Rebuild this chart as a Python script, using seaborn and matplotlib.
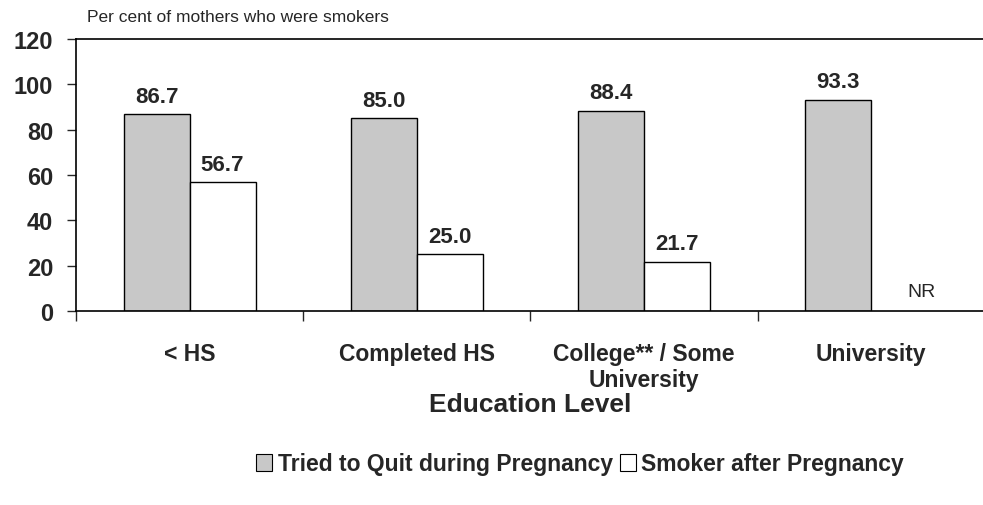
import matplotlib
matplotlib.use("Agg")
import matplotlib.pyplot as plt
import seaborn as sns
import numpy as np
import pandas as pd
from matplotlib.patches import Patch

categories = ["< HS", "Completed HS", "College** / Some\nUniversity", "University"]
series_names = ["Tried to Quit during Pregnancy", "Smoker after Pregnancy"]
tried_quit = [86.7, 85.0, 88.4, 93.3]
smoker_after = [56.7, 25.0, 21.7, np.nan]  # NR for University
yticks = [0, 20, 40, 60, 80, 100, 120]

df = pd.DataFrame({
    "Education": categories * 2,
    "Series": [series_names[0]] * 4 + [series_names[1]] * 4,
    "Value": tried_quit + smoker_after,
})

sns.set_style("white")
plt.rcParams["font.family"] = ["Liberation Sans", "DejaVu Sans"]

fig = plt.figure(figsize=(9.83, 5.06), dpi=100)
ax = fig.add_axes([76 / 983, 1 - 312 / 506, 1 - 76 / 983 + 0.002, (312 - 40) / 506])

grey = "#c8c8c8"
sns.barplot(data=df, x="Education", y="Value", hue="Series", order=categories,
            hue_order=series_names, palette=[grey, "white"], width=0.58,
            edgecolor="black", linewidth=1.0, saturation=1, errorbar=None,
            legend=False, ax=ax)

for p in ax.patches:
    h = p.get_height()
    if np.isnan(h) or h == 0:
        continue
    ax.text(p.get_x() + p.get_width() / 2, h + 5.5, f"{h:.1f}", ha="center", va="baseline",
            fontsize=16, fontweight="bold")

# NR for missing value
for i, v in enumerate(smoker_after):
    if np.isnan(v):
        ax.text(i + 0.22, 6.6, "NR", ha="center", va="baseline", fontsize=14)

ax.set_ylim(0, 120)
ax.set_xlim(-0.5, 3.5)
ax.set_yticks(yticks)
ax.set_yticklabels([str(t) for t in yticks], fontsize=17, fontweight="bold")
ax.tick_params(axis="y", direction="out", length=6.5, width=1, left=True, pad=10)

ax.set_xticks(np.arange(-0.5, 4.0, 1.0))
ax.set_xticklabels([])
ax.tick_params(axis="x", which="major", direction="out", length=7, width=1, bottom=True)
ax.set_xticks(np.arange(4), minor=True)
ax.set_xticklabels(categories, minor=True, fontsize=16.5, fontweight="bold")
ax.tick_params(axis="x", which="minor", length=0, pad=22)

for s in ["left", "bottom", "top"]:
    ax.spines[s].set_visible(True)
    ax.spines[s].set_color("black")
    ax.spines[s].set_linewidth(1.2)
ax.spines["right"].set_visible(False)

ax.set_xlabel("Education Level", fontsize=19, fontweight="bold", va="center")
ax.xaxis.set_label_coords(0.5, (312 - 405) / 272)
ax.set_ylabel("")
ax.grid(False)

fig.text(87 / 983, 1 - 17 / 506, "Per cent of mothers who were smokers", fontsize=12.5,
         ha="left", va="center")

handles = [Patch(facecolor=grey, edgecolor="black", linewidth=0.8),
           Patch(facecolor="white", edgecolor="black", linewidth=0.8)]
fig.legend(handles, series_names, loc="center", bbox_to_anchor=(580 / 983, 1 - 465 / 506),
           ncol=2, frameon=False, prop={"weight": "bold", "size": 16.5},
           handlelength=0.7, handleheight=0.7, handletextpad=0.25, columnspacing=0.3)

fig.savefig("out.png", dpi=100)
